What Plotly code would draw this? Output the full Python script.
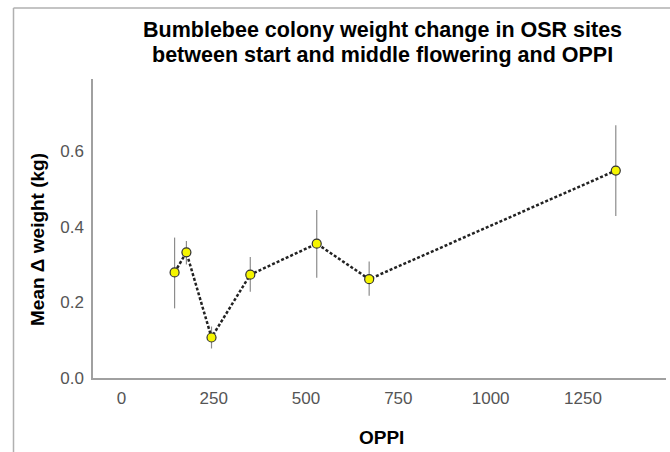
import plotly.graph_objects as go

# Data
oppi = [144, 176, 244, 349, 529, 671, 1339]
mean_dw = [0.279, 0.332, 0.107, 0.273, 0.355, 0.261, 0.548]
upper = [0.371, 0.362, 0.136, 0.320, 0.444, 0.308, 0.668]
lower = [0.184, 0.300, 0.078, 0.228, 0.265, 0.217, 0.428]

x_ticks = [0, 250, 500, 750, 1000, 1250]
y_ticks = [0.0, 0.2, 0.4, 0.6]

title_lines = ["Bumblebee colony weight change in OSR sites",
               "between start and middle flowering and OPPI"]

err_plus = [u - m for u, m in zip(upper, mean_dw)]
err_minus = [m - l for m, l in zip(mean_dw, lower)]

W, H = 670, 452
L, R, T, B = 93, 4, 79, 74
pw, ph = W - L - R, H - T - B

def px(xpix):
    return (xpix - L) / pw

def py(ypix):
    return (H - B - ypix) / ph

fig = go.Figure()
fig.add_trace(go.Scatter(
    x=oppi, y=mean_dw, mode="lines+markers",
    line=dict(color="#222222", width=2.5, dash="3px,2px"),
    marker=dict(size=9, color="#f5f500", line=dict(color="#333333", width=1.2)),
    error_y=dict(type="data", symmetric=False, array=err_plus, arrayminus=err_minus,
                 color="#8c8c8c", thickness=1.2, width=0),
    showlegend=False,
))

font_family = "Liberation Sans, Arial, sans-serif"

annotations = [
    dict(text=f"<b>{title_lines[0]}</b>", xref="paper", yref="paper",
         x=px(382), y=py(29.5), showarrow=False, xanchor="center", yanchor="middle",
         font=dict(size=21.5, color="black", family=font_family)),
    dict(text=f"<b>{title_lines[1]}</b>", xref="paper", yref="paper",
         x=px(382), y=py(55), showarrow=False, xanchor="center", yanchor="middle",
         font=dict(size=21.5, color="black", family=font_family)),
    dict(text="<b>Mean Δ weight (kg)</b>", xref="paper", yref="paper",
         x=px(37), y=py(240), textangle=-90, showarrow=False,
         xanchor="center", yanchor="middle",
         font=dict(size=19, color="black", family=font_family)),
    dict(text="<b>OPPI</b>", xref="paper", yref="paper",
         x=px(381.5), y=py(437), showarrow=False,
         xanchor="center", yanchor="middle",
         font=dict(size=19, color="black", family=font_family)),
]

fig.update_layout(
    width=W, height=H,
    margin=dict(l=L, r=R, t=T, b=B),
    paper_bgcolor="white", plot_bgcolor="white",
    font=dict(family=font_family),
    xaxis=dict(
        range=[-77, 1475], tickvals=x_ticks, ticktext=[str(v) for v in x_ticks],
        showgrid=False, zeroline=False, showline=True, linecolor="#a0a0a0", linewidth=1.5,
        ticks="outside", ticklen=4, tickcolor="rgba(0,0,0,0)",
        tickfont=dict(size=17, color="#555555", family=font_family),
    ),
    yaxis=dict(
        range=[0, 0.79], tickvals=y_ticks, ticktext=[f"{v:.1f}" for v in y_ticks],
        showgrid=False, zeroline=False, showline=True, linecolor="#a0a0a0", linewidth=1.5,
        ticks="outside", ticklen=4, tickcolor="rgba(0,0,0,0)",
        tickfont=dict(size=17, color="#555555", family=font_family),
    ),
    annotations=annotations,
    shapes=[
        dict(type="line", xref="paper", yref="paper", x0=px(13.5), x1=px(13.5),
             y0=py(8), y1=py(H + 2), line=dict(color="#b0b0b0", width=1.5)),
        dict(type="line", xref="paper", yref="paper", x0=px(13.5), x1=px(W + 2),
             y0=py(8), y1=py(8), line=dict(color="#b0b0b0", width=1.5)),
    ],
)

fig.write_html("out.html")
